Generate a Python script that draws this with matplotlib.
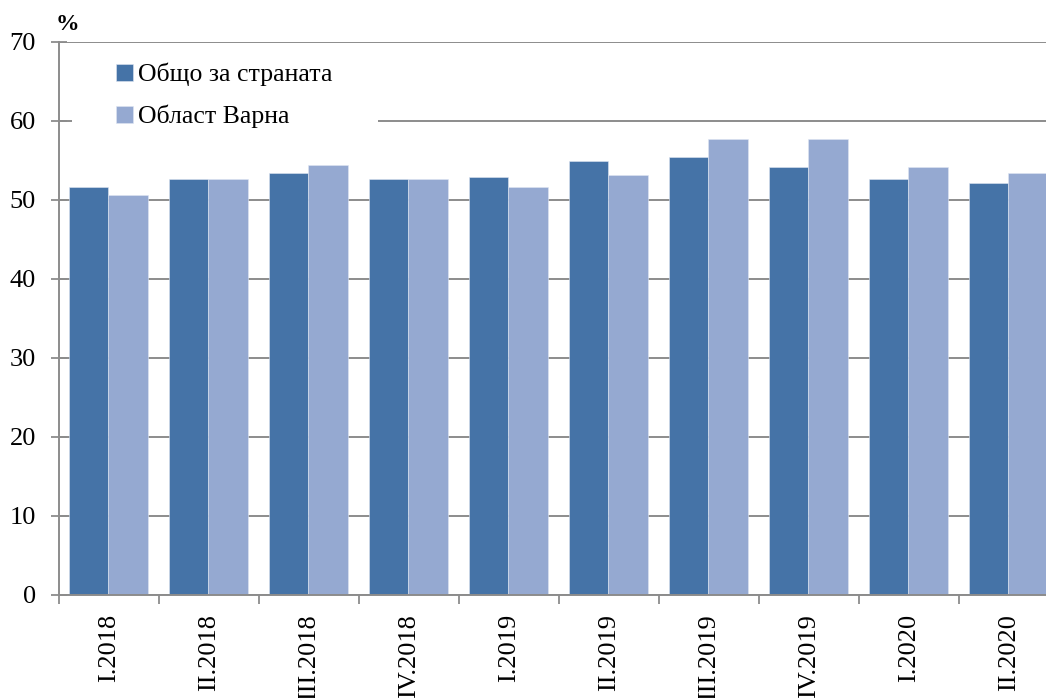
import matplotlib
matplotlib.use("Agg")
import matplotlib.pyplot as plt
import numpy as np
from matplotlib.patches import Rectangle

categories = ["I.2018", "II.2018", "III.2018", "IV.2018", "I.2019",
              "II.2019", "III.2019", "IV.2019", "I.2020", "II.2020"]
country = [51.6, 52.6, 53.4, 52.6, 52.9, 54.9, 55.4, 54.1, 52.6, 52.1]
varna = [50.6, 52.6, 54.4, 52.6, 51.6, 53.1, 57.7, 57.7, 54.1, 53.4]
series_names = ["Общо за страната", "Област Варна"]
yticks = [0, 10, 20, 30, 40, 50, 60, 70]

W, H = 1046, 698
fig = plt.figure(figsize=(W / 100, H / 100), dpi=100)
plt.rcParams['font.family'] = ['Liberation Serif', 'DejaVu Serif']

left_px, bottom_px, top_px, right_px = 59.3, 594.5, 41.5, 1059.3
ax = fig.add_axes([left_px / W, (H - bottom_px) / H,
                   (right_px - left_px) / W, (bottom_px - top_px) / H])

dark = "#4573A7"
light = "#95A9D1"
grid_c = "#8C8C8C"

x = np.arange(len(categories))
w = 0.395
ax.bar(x - 0.207, country, width=w, color=dark, label=series_names[0],
       edgecolor="#dfe6f2", linewidth=0.4, zorder=2)
ax.bar(x + 0.188, varna, width=w, color=light, label=series_names[1],
       edgecolor="#dfe6f2", linewidth=0.4, zorder=2)

ax.set_xlim(-0.5, len(categories) - 0.5)
ax.set_ylim(0, 70)
ax.set_yticks(yticks)
ax.set_yticklabels([str(v) for v in yticks], fontsize=19)

ax.set_axisbelow(True)
ax.yaxis.grid(True, color=grid_c, linewidth=1.4)
ax.xaxis.grid(False)

# x ticks at category boundaries, labels at centres
ax.set_xticks(np.arange(len(categories) + 1) - 0.5)
ax.set_xticklabels([])
ax.set_xticks(x, minor=True)
ax.set_xticklabels(categories, minor=True, rotation=90, fontsize=19,
                   va='top', ha='center')
ax.tick_params(axis='x', which='major', direction='out', length=6.5,
               width=1.3, color=grid_c)
ax.tick_params(axis='x', which='minor', length=0, pad=14)
ax.tick_params(axis='y', direction='inout', length=11.5, width=1.3,
               color=grid_c, pad=11)

for s in ['top', 'right']:
    ax.spines[s].set_visible(False)
for s in ['left', 'bottom']:
    ax.spines[s].set_color(grid_c)
    ax.spines[s].set_linewidth(1.4)

# white legend background covering the gridline
ax.add_patch(Rectangle((-0.373, 57.5), 3.06, 11.4, facecolor='white',
                       edgecolor='none', zorder=1))

leg = ax.legend(loc='upper left', bbox_to_anchor=(116 / W, 1 - 63 / H),
                bbox_transform=fig.transFigure, frameon=False, fontsize=18.5,
                handlelength=0.66, handleheight=0.66, handletextpad=0.2,
                borderpad=0, borderaxespad=0, labelspacing=0.72)

fig.text(67 / W, 1 - 24 / H, "%", fontsize=17, fontweight='bold',
         ha='center', va='center')

fig.savefig("out.png", dpi=100)
